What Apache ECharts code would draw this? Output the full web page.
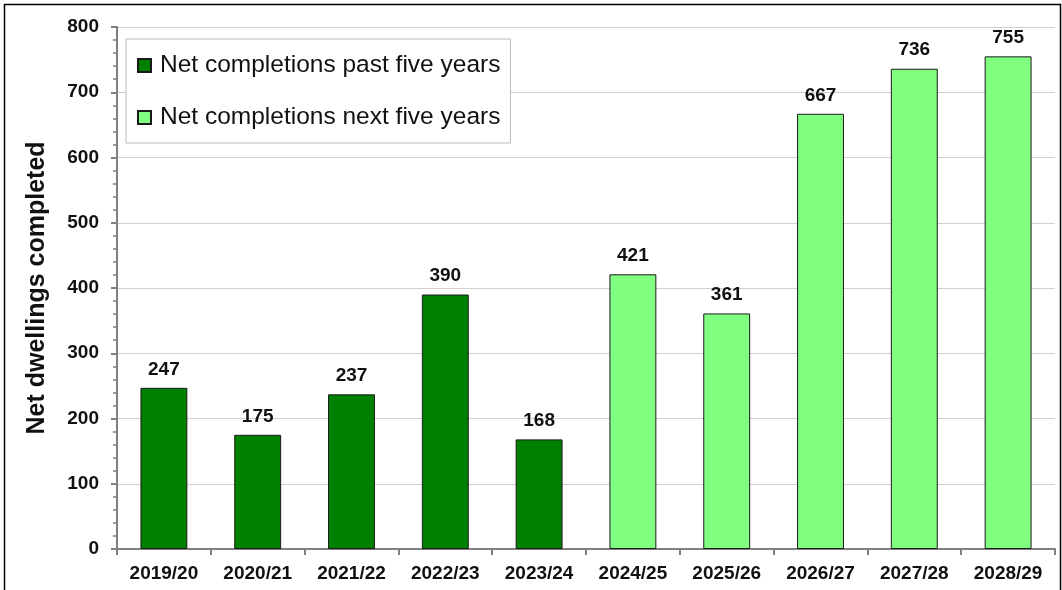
<!DOCTYPE html>
<html>
<head>
<meta charset="utf-8">
<script src="https://cdn.jsdelivr.net/npm/echarts@6/dist/echarts.min.js"></script>
<style>
  html, body { margin: 0; padding: 0; background: #fff; }
  #net-completions { width: 1062px; height: 590px; }
</style>
</head>
<body>
<div id="net-completions"></div>
<script>
// 数据
const years = ["2019/20", "2020/21", "2021/22", "2022/23", "2023/24", "2024/25", "2025/26", "2026/27", "2027/28", "2028/29"];
const pastFive = [247, 175, 237, 390, 168, "-", "-", "-", "-", "-"];
const nextFive = ["-", "-", "-", "-", "-", 421, 361, 667, 736, 755];

let myChart = echarts.init(document.getElementById("net-completions"));
const font = "Arial, 'Liberation Sans', sans-serif";
const labelStyle = {
  show: true,
  position: "top",
  distance: 9,
  color: "#111",
  fontFamily: font,
  fontWeight: "bold",
  fontSize: 19,
};
let option = {
  animation: false,
  graphic: [
    {
      type: "rect",
      left: 2,
      top: 2,
      shape: { width: 1056, height: 620 },
      style: { fill: "none", stroke: "#000", lineWidth: 1.5 },
      silent: true,
    },
  ],
  legend: {
    orient: "vertical",
    left: 126,
    top: 39,
    padding: [14, 10, 13, 11],
    itemGap: 27,
    itemWidth: 13,
    itemHeight: 13,
    borderColor: "#bbb",
    borderWidth: 1,
    backgroundColor: "#fff",
    icon: "rect",
    textStyle: {
      color: "#111",
      fontFamily: font,
      fontSize: 24.5,
      padding: [0, 0, 0, 4],
    },
    data: ["Net completions past five years", "Net completions next five years"],
  },
  grid: {
    left: 117,
    right: 7,
    top: 27,
    bottom: 41,
  },
  xAxis: {
    type: "category",
    data: years,
    axisLine: { lineStyle: { color: "#808080", width: 2 } },
    axisTick: { show: true, length: 6, lineStyle: { color: "#808080", width: 2 } },
    axisLabel: {
      color: "#111",
      fontFamily: font,
      fontWeight: "bold",
      fontSize: 19,
      margin: 15,
      interval: 0,
    },
  },
  yAxis: {
    type: "value",
    min: 0,
    max: 800,
    interval: 100,
    name: "Net dwellings completed",
    nameLocation: "middle",
    nameGap: 67,
    nameTextStyle: {
      color: "#111",
      fontFamily: font,
      fontWeight: "bold",
      fontSize: 25,
    },
    axisLine: { show: true, lineStyle: { color: "#808080", width: 2 } },
    axisTick: { show: true, length: 6, lineStyle: { color: "#808080", width: 2 } },
    minorTick: { show: true, splitNumber: 5, length: 4, lineStyle: { color: "#808080", width: 1.5 } },
    splitLine: { lineStyle: { color: "#d0d0d0", width: 1 } },
    axisLabel: {
      color: "#111",
      fontFamily: font,
      fontWeight: "bold",
      fontSize: 19,
      margin: 18,
    },
  },
  series: [
    {
      name: "Net completions past five years",
      type: "bar",
      data: pastFive,
      barWidth: "50%",
      barGap: "-100%",
      itemStyle: { color: "#008000", borderColor: "#1a1a1a", borderWidth: 1 },
      label: labelStyle,
    },
    {
      name: "Net completions next five years",
      type: "bar",
      data: nextFive,
      barWidth: "50%",
      barGap: "-100%",
      itemStyle: { color: "#80ff80", borderColor: "#1a1a1a", borderWidth: 1 },
      label: labelStyle,
    },
  ],
};
myChart.setOption(option);
</script>
</body>
</html>
